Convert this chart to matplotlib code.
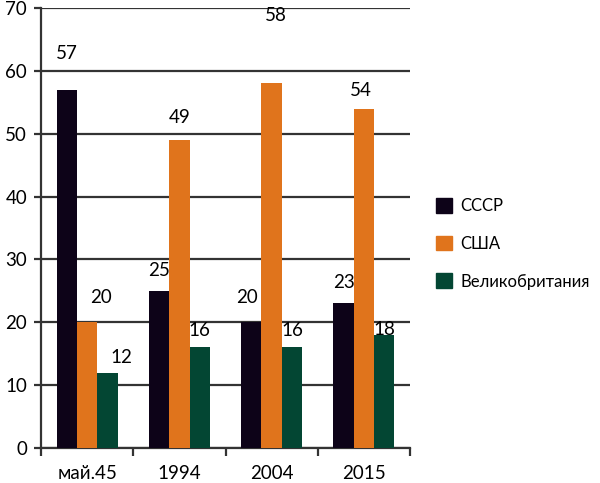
import matplotlib
matplotlib.use("Agg")
import matplotlib.pyplot as plt
import numpy as np
from matplotlib.patches import Patch

categories = ["май.45", "1994", "2004", "2015"]
series_names = ["СССР", "США", "Великобритания"]
ussr = [57, 25, 20, 23]
usa = [20, 49, 58, 54]
uk = [12, 16, 16, 18]
colors = ["#0D0318", "#E0741C", "#034633"]

# label offsets (points) for value annotations: (dx, dy)
label_offsets = [
    [(0, 26), (0, 15), (-3, 18), (0, 15)],
    [(10, 18), (0, 16), (3, 49), (-2, 13)],
    [(10, 11), (0, 12), (0, 12), (0, 4)],
]

plt.rcParams['font.family'] = ['Lato', 'DejaVu Sans']

fig = plt.figure(figsize=(6, 4.83), dpi=100)
ax = fig.add_axes([41/600, 1-448/483, (410-41)/600, (448-8)/483])

x = np.arange(len(categories))
w = 0.22
data = [ussr, usa, uk]
for i, (vals, c) in enumerate(zip(data, colors)):
    pos = x + (i - 1) * w
    ax.bar(pos, vals, width=w, color=c, zorder=3)
    for j, v in enumerate(vals):
        dx, dy = label_offsets[i][j]
        ax.annotate(str(v), (pos[j], v), xytext=(dx, dy), textcoords="offset points",
                    ha="center", va="center", fontsize=13.5, color="black")

ax.set_xlim(-0.5, 3.5)
ax.set_ylim(0, 70)
ax.set_yticks(range(0, 71, 10))
ax.yaxis.grid(True, color="#333333", linewidth=1.6, zorder=0)
ax.set_axisbelow(True)
for s in ["top", "right"]:
    ax.spines[s].set_visible(False)
ax.spines["left"].set_color("#333333")
ax.spines["left"].set_linewidth(1.6)
ax.spines["bottom"].set_color("#333333")
ax.spines["bottom"].set_linewidth(1.6)
ax.tick_params(axis="y", length=5, width=1.6, color="#333333", labelsize=13.5, pad=5)
ax.set_xticks(x)
ax.set_xticklabels(categories)
ax.tick_params(axis="x", which="major", length=0, labelsize=13.5, pad=12)
ax.set_xticks(np.arange(-0.5, 3.6, 1), minor=True)
ax.tick_params(axis="x", which="minor", length=6, width=1.6, color="#333333")

handles = [Patch(facecolor=c, edgecolor=c) for c in colors]
fig.legend(handles, series_names, loc="upper left", bbox_to_anchor=(429/600, 1-191/483),
           frameon=False, fontsize=12, handlelength=1.0, handleheight=1.0,
           labelspacing=1.3, handletextpad=0.5, borderaxespad=0)

fig.savefig("out.png", dpi=100)
